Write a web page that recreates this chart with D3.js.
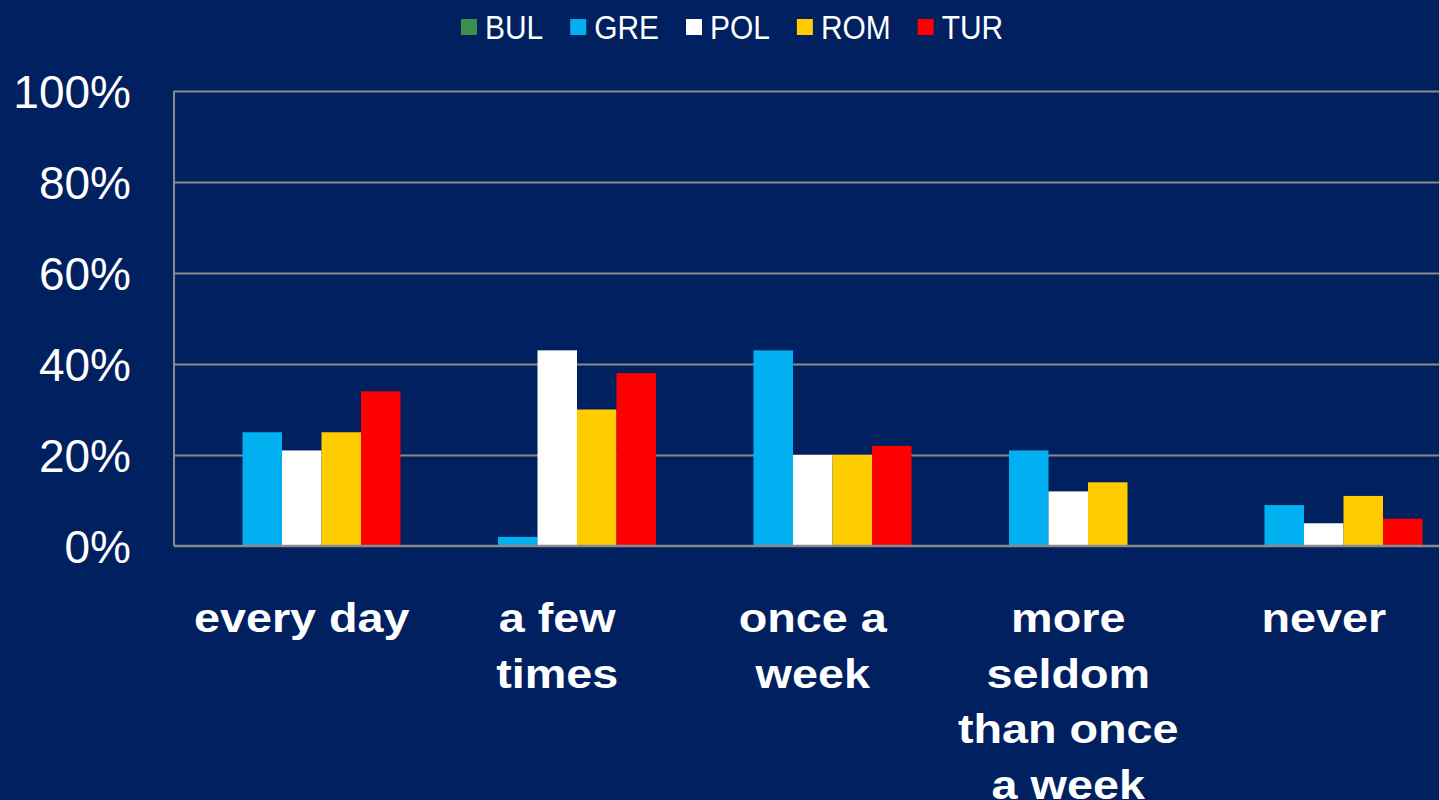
<!DOCTYPE html>
<html>
<head>
<meta charset="utf-8">
<script src="https://cdn.jsdelivr.net/npm/d3@7"></script>
<style>
  html, body { margin: 0; padding: 0; background: #002060; overflow: hidden; }
  svg { display: block; }
</style>
</head>
<body>
<svg id="chart" width="1439" height="800"></svg>
<script>
// ---- data ----
const categories = ["every day", "a few times", "once a week", "more seldom than once a week", "never"];
const categoryLines = [["every day"], ["a few", "times"], ["once a", "week"], ["more", "seldom", "than once", "a week"], ["never"]];
const seriesNames = ["BUL", "GRE", "POL", "ROM", "TUR"];
const BUL = [0, 0, 0, 0, 0];
const GRE = [25, 2, 43, 21, 9];
const POL = [21, 43, 20, 12, 5];
const ROM = [25, 30, 20, 14, 11];
const TUR = [34, 38, 22, 0, 6];
const tickValues = [0, 20, 40, 60, 80, 100];
const tickLabels = ["0%", "20%", "40%", "60%", "80%", "100%"];

const seriesValues = { BUL, GRE, POL, ROM, TUR };
const colors = { BUL: "#3F8F4C", GRE: "#00B0F0", POL: "#FFFFFF", ROM: "#FFCC00", TUR: "#FF0000" };

// ---- layout ----
const svg = d3.select("#chart");
const plotLeft = 174, plotTop = 91, plotBottom = 546;
const groupW = 255.5;
const plotRight = plotLeft + groupW * categories.length;

const x0 = d3.scaleBand().domain(categories).range([plotLeft, plotRight]).paddingInner(0).paddingOuter(0);
const x1 = d3.scaleBand().domain(seriesNames).range([0, x0.bandwidth()]).paddingInner(0).paddingOuter(0.734);
const y = d3.scaleLinear().domain([0, 100]).range([plotBottom, plotTop]);

// gridlines
const grid = svg.append("g").attr("transform", `translate(${plotLeft},0)`)
  .call(d3.axisLeft(y).tickValues(tickValues.filter(v => v > 0)).tickSize(-(1439 - plotLeft)).tickFormat(""));
grid.select(".domain").remove();
grid.selectAll(".tick line").attr("stroke", "#8A8A8A").attr("stroke-width", 1.8);

// bars
const rows = categories.map((c, i) => ({ cat: c, vals: seriesNames.map(s => ({ s, v: seriesValues[s][i] })) }));
const groups = svg.append("g").selectAll("g").data(rows).join("g")
  .attr("transform", d => `translate(${x0(d.cat)},0)`);
groups.selectAll("rect").data(d => d.vals).join("rect")
  .attr("x", d => x1(d.s))
  .attr("width", x1.bandwidth())
  .attr("y", d => y(d.v))
  .attr("height", d => y(0) - y(d.v))
  .attr("fill", d => colors[d.s]);

// axes lines
svg.append("line").attr("x1", plotLeft).attr("x2", plotLeft).attr("y1", plotTop).attr("y2", plotBottom)
  .attr("stroke", "#8A8A8A").attr("stroke-width", 2);
svg.append("line").attr("x1", plotLeft).attr("x2", 1439).attr("y1", plotBottom).attr("y2", plotBottom)
  .attr("stroke", "#8A8A8A").attr("stroke-width", 2.5);

// y axis labels
const yAxis = svg.append("g").attr("transform", `translate(131,0)`)
  .call(d3.axisLeft(y).tickValues(tickValues).tickSize(0).tickPadding(0)
    .tickFormat((d, i) => tickLabels[i]));
yAxis.select(".domain").remove();
yAxis.selectAll("text")
  .attr("fill", "#FFFFFF")
  .attr("font-family", "'Liberation Sans', Arial, sans-serif")
  .attr("font-size", 46)
  .attr("dy", "0.36em");

// x labels
const xl = svg.append("g").selectAll("g").data(categories).join("g")
  .attr("transform", d => `translate(${x0(d) + x0.bandwidth() / 2},632)`);
xl.each(function (d, i) {
  const g = d3.select(this);
  categoryLines[i].forEach((ln, j) => {
    g.append("text")
      .attr("transform", `translate(0,${j * 55.5}) scale(1.14,1)`)
      .attr("text-anchor", "middle")
      .attr("fill", "#FFFFFF")
      .attr("font-family", "'Liberation Sans', Arial, sans-serif")
      .attr("font-weight", "bold")
      .attr("font-size", 41)
      .text(ln);
  });
});

// legend
const legend = svg.append("g");
let lx = 461;
seriesNames.forEach(s => {
  legend.append("rect").attr("x", lx).attr("y", 19).attr("width", 16).attr("height", 16).attr("fill", colors[s]);
  const t = legend.append("text")
    .attr("transform", `translate(${lx + 24},39) scale(0.88,1)`)
    .attr("fill", "#FFFFFF")
    .attr("font-family", "'Liberation Sans', Arial, sans-serif")
    .attr("font-size", 34)
    .text(s);
  const w = t.node().getComputedTextLength() * 0.88;
  lx = lx + 24 + w + 27;
});
</script>
</body>
</html>
